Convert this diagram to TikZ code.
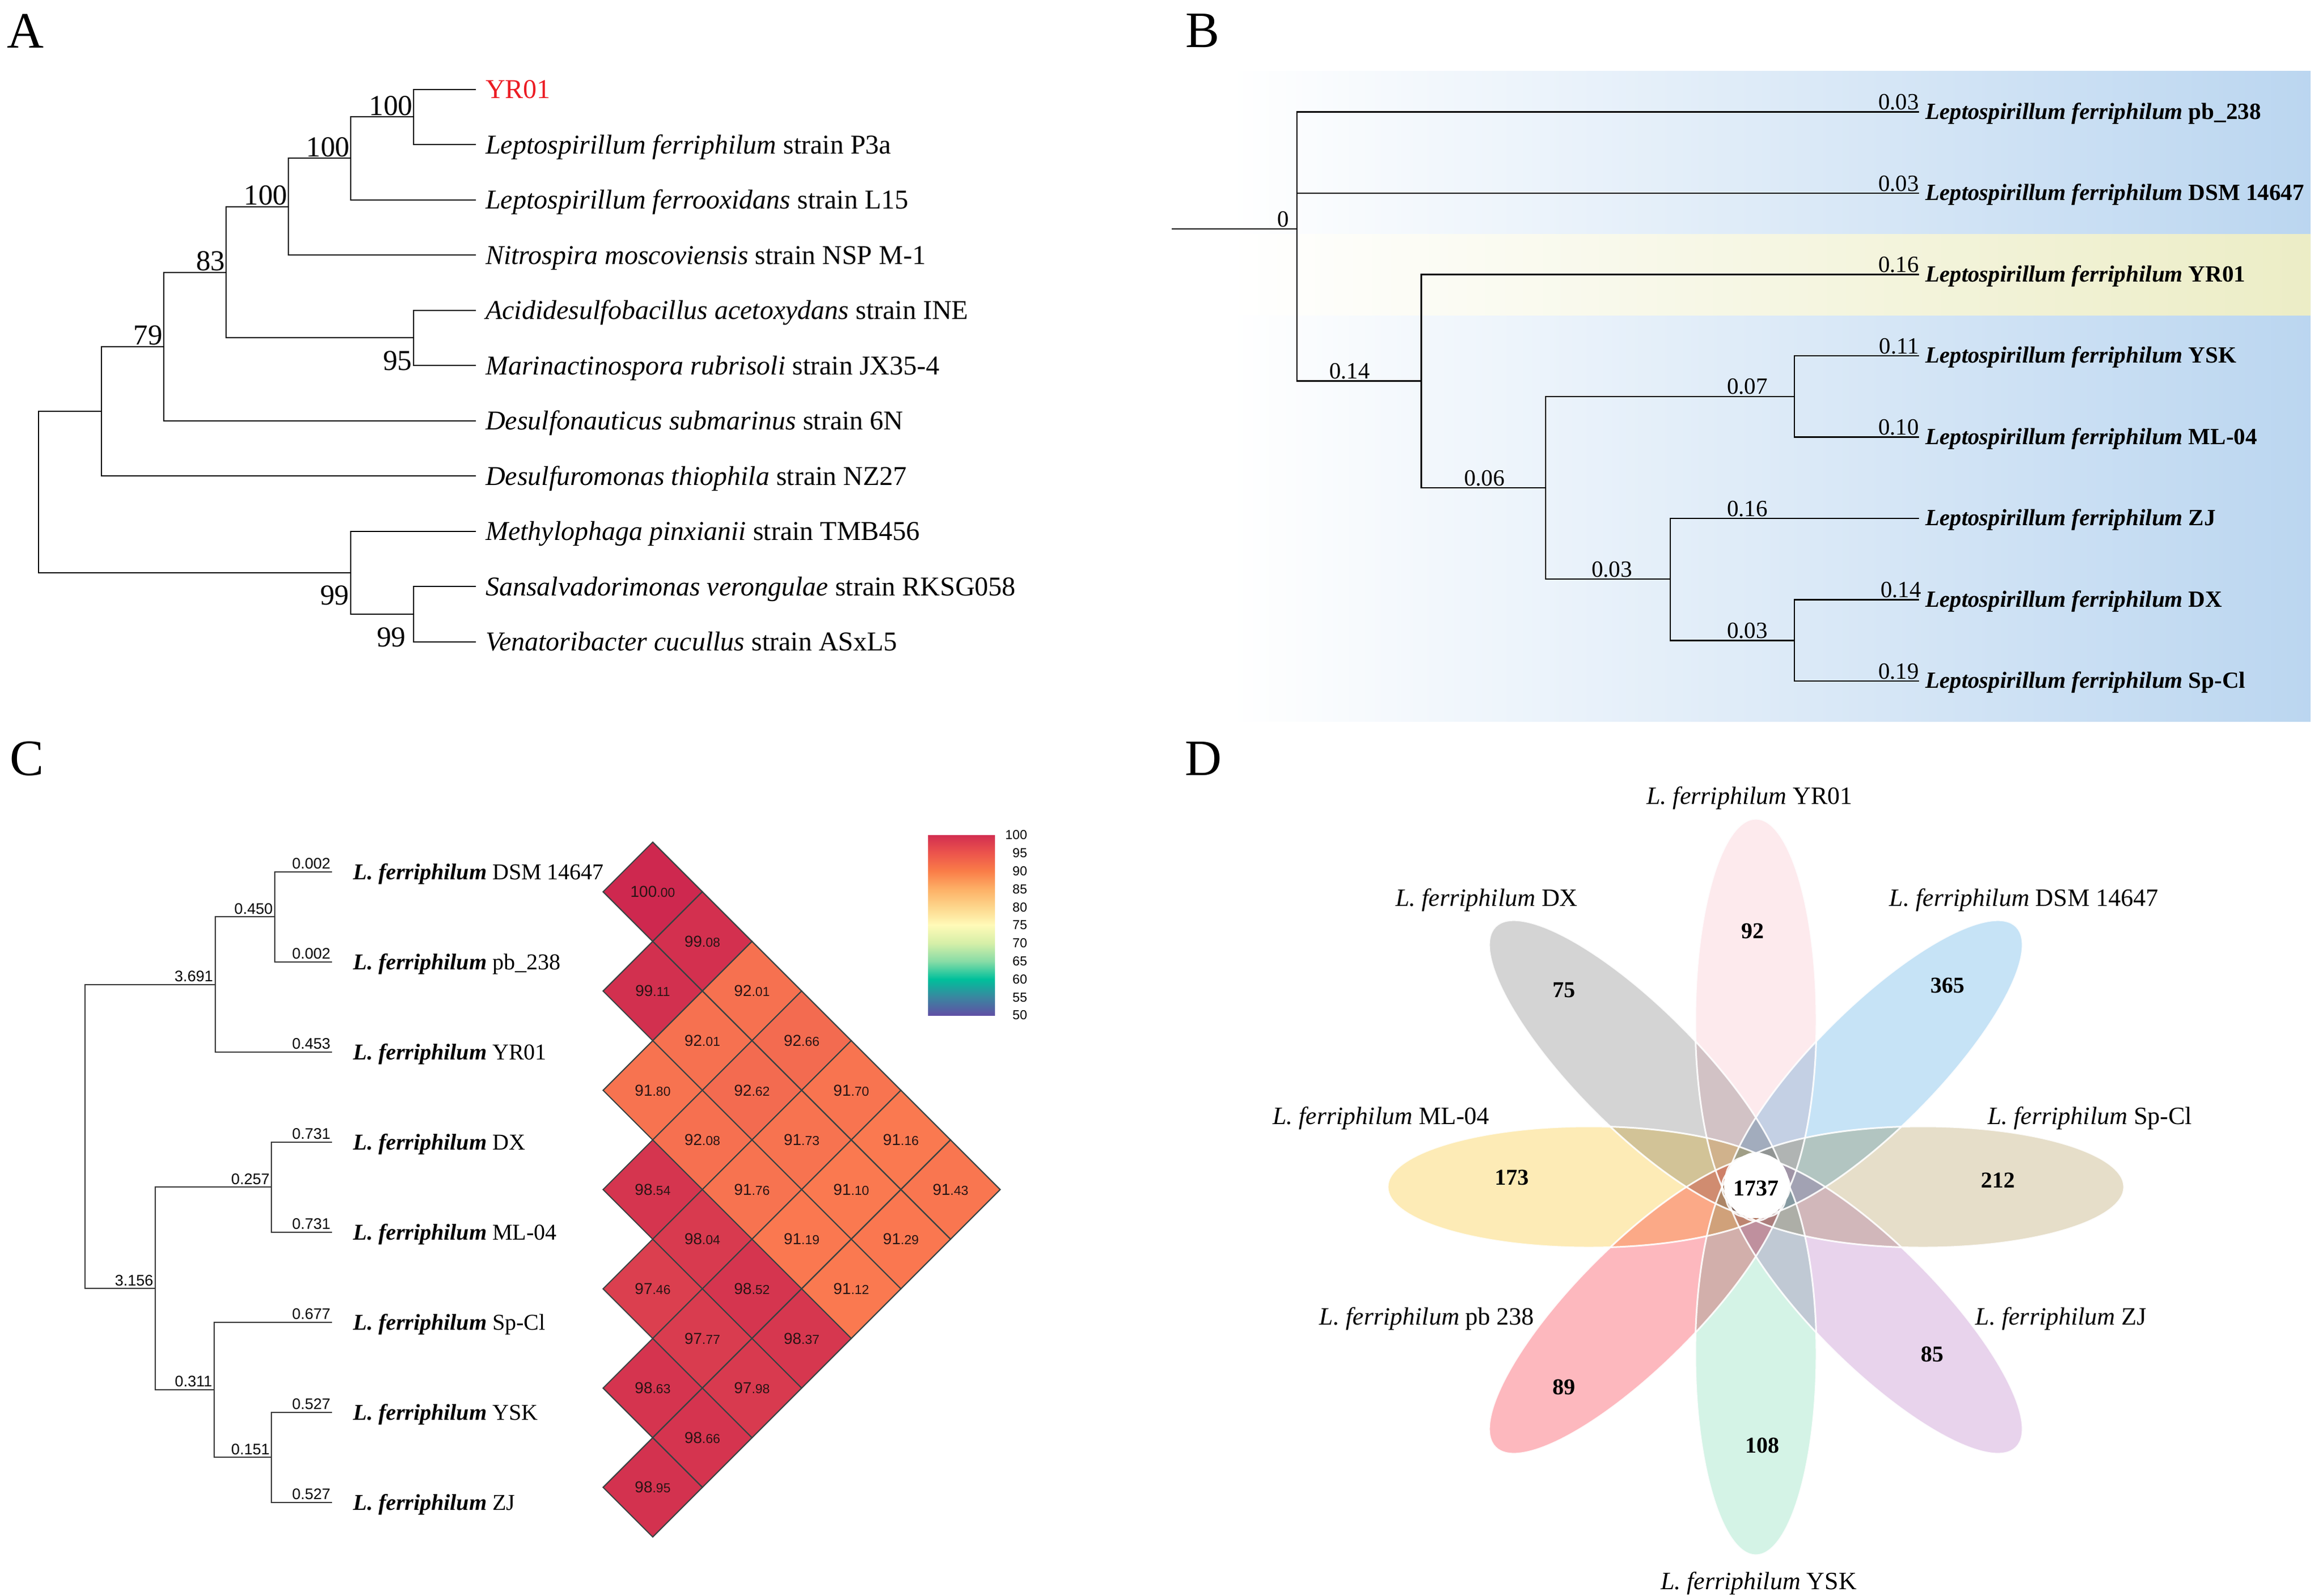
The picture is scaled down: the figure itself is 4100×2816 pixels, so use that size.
\documentclass[tikz,border=0pt]{standalone}
\usepackage{fontspec}
\setmainfont{Liberation Serif}
\newfontfamily\sansf{Liberation Sans}
\usetikzlibrary{calc}

\definecolor{bgblue}{RGB}{187,214,240}
\definecolor{bgyel}{RGB}{236,237,198}
\definecolor{treeCgray}{RGB}{55,55,55}
\definecolor{yrred}{RGB}{236,28,36}
\definecolor{hmhigh}{RGB}{206,40,79}
\definecolor{hmlow}{RGB}{251,122,80}
\definecolor{cellline}{RGB}{55,65,65}
\definecolor{hmtxt}{RGB}{40,20,20}
\definecolor{s100}{RGB}{210,46,80}
\definecolor{s95}{RGB}{236,84,76}
\definecolor{s90}{RGB}{250,125,72}
\definecolor{s85}{RGB}{253,176,102}
\definecolor{s80}{RGB}{253,214,140}
\definecolor{s75}{RGB}{255,250,184}
\definecolor{s70}{RGB}{214,239,168}
\definecolor{s65}{RGB}{136,220,166}
\definecolor{s60}{RGB}{0,192,155}
\definecolor{s55}{RGB}{58,134,160}
\definecolor{s50}{RGB}{96,80,165}
\definecolor{pYR}{RGB}{253,234,237}
\definecolor{pDSM}{RGB}{198,227,246}
\definecolor{pSP}{RGB}{230,222,201}
\definecolor{pZJ}{RGB}{232,211,236}
\definecolor{pYSK}{RGB}{212,243,230}
\definecolor{pPB}{RGB}{253,184,190}
\definecolor{pML}{RGB}{253,235,182}
\definecolor{pDX}{RGB}{212,212,212}

\pgfdeclareverticalshading{spectralbar}{100bp}{color(0bp)=(s50); color(25bp)=(s50); color(30bp)=(s55); color(35bp)=(s60); color(40bp)=(s65); color(45bp)=(s70); color(50bp)=(s75); color(55bp)=(s80); color(60bp)=(s85); color(65bp)=(s90); color(70bp)=(s95); color(75bp)=(s100); color(100bp)=(s100)}

\tikzset{
  panellbl/.style={anchor=base west, inner sep=0, font=\fontsize{90}{100}\selectfont},
  treeA/.style={line width=2pt, black},
  leafA/.style={anchor=base west, inner sep=0, font=\fontsize{48}{56}\selectfont},
  bootA/.style={inner sep=0, font=\fontsize{51}{60}\selectfont},
  treeB/.style={line width=2.6pt, black},
  leafB/.style={anchor=base west, inner sep=0, font=\fontsize{41}{48}\selectfont\bfseries},
  brB/.style={inner sep=0, font=\fontsize{41}{48}\selectfont},
  treeC/.style={line width=2pt, treeCgray},
  leafC/.style={anchor=base west, inner sep=0, font=\fontsize{40}{48}\selectfont},
  brC/.style={anchor=base east, inner sep=0, font=\sansf\fontsize{27}{32}\selectfont},
  hmtext/.style={inner sep=0, text=hmtxt, font=\sansf},
  cbtext/.style={anchor=east, inner sep=0, font=\sansf\fontsize{23}{26}\selectfont},
  venlbl/.style={inner sep=0, font=\fontsize{44}{52}\selectfont},
  vennum/.style={inner sep=0, font=\fontsize{40}{48}\selectfont\bfseries},
}

\begin{document}
\begin{tikzpicture}[x=1pt,y=-1pt]
\useasboundingbox (0,0) rectangle (4100,2816);
\fill[white] (0,0) rectangle (4100,2816);

% ================= Panel A =================
\node[panellbl] (lblA) at (12,84) {A};
\foreach \n/\yy in {1/157.5,2/255,3/352.5,4/450,5/547.5,6/645,7/742.5,8/840,9/937.5,10/1035,11/1132.5}{
  \coordinate (la\n) at (840,\yy);
}
\coordinate (a1) at (730.3,206.25);
\coordinate (a2) at (619.4,279.4);
\coordinate (a3) at (509.3,364.7);
\coordinate (a8) at (730.3,596.25);
\coordinate (a4) at (399.2,480.5);
\coordinate (a5) at (289,611.5);
\coordinate (a6) at (178.9,725.7);
\coordinate (a10) at (730.3,1083.75);
\coordinate (a9) at (619.4,1010.6);
\coordinate (a0) at (68,868);
\draw[treeA] (a1) |- (la1) (a1) |- (la2)
  (a2) |- (a1) (a2) |- (la3)
  (a3) |- (a2) (a3) |- (la4)
  (a8) |- (la5) (a8) |- (la6)
  (a4) |- (a3) (a4) |- (a8)
  (a5) |- (a4) (a5) |- (la7)
  (a6) |- (a5) (a6) |- (la8)
  (a10) |- (la10) (a10) |- (la11)
  (a9) |- (la9) (a9) |- (a10)
  (a0) |- (a6) (a0) |- (a9);
\node[leafA, text=yrred] (ta1) at ($(la1)+(17,16)$) {YR01};
\node[leafA] (ta2) at ($(la2)+(17,16)$) {\textit{Leptospirillum ferriphilum} strain P3a};
\node[leafA] (ta3) at ($(la3)+(17,16)$) {\textit{Leptospirillum ferrooxidans} strain L15};
\node[leafA] (ta4) at ($(la4)+(17,16)$) {\textit{Nitrospira moscoviensis} strain NSP M-1};
\node[leafA] (ta5) at ($(la5)+(17,16)$) {\textit{Acididesulfobacillus acetoxydans} strain INE};
\node[leafA] (ta6) at ($(la6)+(17,16)$) {\textit{Marinactinospora rubrisoli} strain JX35-4};
\node[leafA] (ta7) at ($(la7)+(17,16)$) {\textit{Desulfonauticus submarinus} strain 6N};
\node[leafA] (ta8) at ($(la8)+(17,16)$) {\textit{Desulfuromonas thiophila} strain NZ27};
\node[leafA] (ta9) at ($(la9)+(17,16)$) {\textit{Methylophaga pinxianii} strain TMB456};
\node[leafA] (ta10) at ($(la10)+(17,16)$) {\textit{Sansalvadorimonas verongulae} strain RKSG058};
\node[leafA] (ta11) at ($(la11)+(17,16)$) {\textit{Venatoribacter cucullus} strain ASxL5};
\node[bootA, anchor=base east] (bs1) at ($(a1)+(-2,-3)$) {100};
\node[bootA, anchor=base east] (bs2) at ($(a2)+(-2,-3)$) {100};
\node[bootA, anchor=base east] (bs3) at ($(a3)+(-2,-3)$) {100};
\node[bootA, anchor=base east] (bs4) at ($(a4)+(-2,-3)$) {83};
\node[bootA, anchor=base east] (bs5) at ($(a5)+(-2,-3)$) {79};
\node[bootA, anchor=base east] (bs8) at ($(a8)+(-3,57)$) {95};
\node[bootA, anchor=base east] (bs9) at ($(a9)+(-3,57)$) {99};
\node[bootA, anchor=base east] (bs10) at ($(a10)+(-14,58)$) {99};

% ================= Panel B =================
\shade[left color=white, right color=bgblue] (2170,125) rectangle (4078,1273);
\shade[left color=white, right color=bgyel] (2170,413) rectangle (4078,556);
\node[panellbl] (lblB) at (2092,83) {B};
\foreach \n/\yy in {1/197.6,2/341.1,3/484.6,4/628.1,5/771.6,6/915.1,7/1058.6,8/1202.1}{
  \coordinate (lb\n) at (3387,\yy);
}
\coordinate (bstem) at (2068,404);
\coordinate (b0) at (2289,404);
\coordinate (b1) at (2508.5,672.4);
\coordinate (b2) at (2728,861);
\coordinate (b3) at (3167,699.85);
\coordinate (b4) at (2948,1022);
\coordinate (b5) at (3167,1130.35);
\draw[treeB] (bstem) -- (b0)
  (b0) |- (lb1) (b0) |- (lb2) (b0) |- (b1)
  (b1) |- (lb3) (b1) |- (b2)
  (b2) |- (b3) (b2) |- (b4)
  (b3) |- (lb4) (b3) |- (lb5)
  (b4) |- (lb6) (b4) |- (b5)
  (b5) |- (lb7) (b5) |- (lb8);
\node[leafB] (tb1) at ($(lb1)+(11,12.7)$) {\textit{Leptospirillum ferriphilum} pb\_238};
\node[leafB] (tb2) at ($(lb2)+(11,12.7)$) {\textit{Leptospirillum ferriphilum} DSM 14647};
\node[leafB] (tb3) at ($(lb3)+(11,12.7)$) {\textit{Leptospirillum ferriphilum} YR01};
\node[leafB] (tb4) at ($(lb4)+(11,12.7)$) {\textit{Leptospirillum ferriphilum} YSK};
\node[leafB] (tb5) at ($(lb5)+(11,12.7)$) {\textit{Leptospirillum ferriphilum} ML-04};
\node[leafB] (tb6) at ($(lb6)+(11,12.7)$) {\textit{Leptospirillum ferriphilum} ZJ};
\node[leafB] (tb7) at ($(lb7)+(11,12.7)$) {\textit{Leptospirillum ferriphilum} DX};
\node[leafB] (tb8) at ($(lb8)+(11,12.7)$) {\textit{Leptospirillum ferriphilum} Sp-Cl};
\node[brB, anchor=base east] (vb1) at ($(lb1)+(0,-4)$) {0.03};
\node[brB, anchor=base east] (vb2) at ($(lb2)+(0,-4)$) {0.03};
\node[brB, anchor=base east] (vb3) at ($(lb3)+(0,-4)$) {0.16};
\node[brB, anchor=base east] (vb4) at ($(lb4)+(0,-4)$) {0.11};
\node[brB, anchor=base east] (vb5) at ($(lb5)+(0,-4)$) {0.10};
\node[brB, anchor=base east] (vb7) at ($(lb7)+(4,-4)$) {0.14};
\node[brB, anchor=base east] (vb8) at ($(lb8)+(0,-4)$) {0.19};
\node[brB, anchor=base east] (vb0) at (2275,400) {0};
\node[brB, anchor=base] (vbi1) at (2382,668.4) {0.14};
\node[brB, anchor=base] (vbi2) at (2620,857) {0.06};
\node[brB, anchor=base] (vbi3) at (3084,695.85) {0.07};
\node[brB, anchor=base] (vbi6) at (3084,911.1) {0.16};
\node[brB, anchor=base] (vbi4) at (2845,1018) {0.03};
\node[brB, anchor=base] (vbi5) at (3084,1126.35) {0.03};

% ================= Panel C =================
\node[panellbl] (lblC) at (17,1368) {C};
\foreach \n/\yy in {1/1538.8,2/1697.8,3/1856.7,4/2015.7,5/2174.6,6/2333.6,7/2492.6,8/2651.6}{
  \coordinate (lc\n) at (586.4,\yy);
}
\coordinate (c1) at (485,1618.3);
\coordinate (c2) at (380,1737.5);
\coordinate (c3) at (479,2095.15);
\coordinate (c5) at (479,2572.1);
\coordinate (c4) at (377.5,2452.85);
\coordinate (c6) at (273.7,2274);
\coordinate (c0) at (150,2005.75);
\draw[treeC] (c1) |- (lc1) (c1) |- (lc2)
  (c2) |- (c1) (c2) |- (lc3)
  (c3) |- (lc4) (c3) |- (lc5)
  (c5) |- (lc7) (c5) |- (lc8)
  (c4) |- (lc6) (c4) |- (c5)
  (c6) |- (c3) (c6) |- (c4)
  (c0) |- (c2) (c0) |- (c6);
\node[leafC] (tc1) at ($(lc1)+(37,14)$) {\textbf{\textit{L. ferriphilum}} DSM 14647};
\node[leafC] (tc2) at ($(lc2)+(37,14)$) {\textbf{\textit{L. ferriphilum}} pb\_238};
\node[leafC] (tc3) at ($(lc3)+(37,14)$) {\textbf{\textit{L. ferriphilum}} YR01};
\node[leafC] (tc4) at ($(lc4)+(37,14)$) {\textbf{\textit{L. ferriphilum}} DX};
\node[leafC] (tc5) at ($(lc5)+(37,14)$) {\textbf{\textit{L. ferriphilum}} ML-04};
\node[leafC] (tc6) at ($(lc6)+(37,14)$) {\textbf{\textit{L. ferriphilum}} Sp-Cl};
\node[leafC] (tc7) at ($(lc7)+(37,14)$) {\textbf{\textit{L. ferriphilum}} YSK};
\node[leafC] (tc8) at ($(lc8)+(37,14)$) {\textbf{\textit{L. ferriphilum}} ZJ};
\node[brC] (vc1) at ($(lc1)+(-3,-5)$) {0.002};
\node[brC] (vc2) at ($(lc2)+(-3,-5)$) {0.002};
\node[brC] (vc3) at ($(lc3)+(-3,-5)$) {0.453};
\node[brC] (vc4) at ($(lc4)+(-3,-5)$) {0.731};
\node[brC] (vc5) at ($(lc5)+(-3,-5)$) {0.731};
\node[brC] (vc6) at ($(lc6)+(-3,-5)$) {0.677};
\node[brC] (vc7) at ($(lc7)+(-3,-5)$) {0.527};
\node[brC] (vc8) at ($(lc8)+(-3,-5)$) {0.527};
\node[brC] (vci1) at ($(c1)+(-3.5,-5)$) {0.450};
\node[brC] (vci2) at ($(c2)+(-4,-5)$) {3.691};
\node[brC] (vci3) at ($(c3)+(-3,-5)$) {0.257};
\node[brC] (vci6) at ($(c6)+(-3,-5)$) {3.156};
\node[brC] (vci4) at ($(c4)+(-3,-5)$) {0.311};
\node[brC] (vci5) at ($(c5)+(-3,-5)$) {0.151};

% heatmap
\foreach \hr/\hc/\hv/\hi/\hf in {0/0/100.00/100/00, 1/1/99.08/99/08, 2/0/99.11/99/11, 2/2/92.01/92/01, 3/1/92.01/92/01, 3/3/92.66/92/66, 4/0/91.80/91/80, 4/2/92.62/92/62, 4/4/91.70/91/70, 5/1/92.08/92/08, 5/3/91.73/91/73, 5/5/91.16/91/16, 6/0/98.54/98/54, 6/2/91.76/91/76, 6/4/91.10/91/10, 6/6/91.43/91/43, 7/1/98.04/98/04, 7/3/91.19/91/19, 7/5/91.29/91/29, 8/0/97.46/97/46, 8/2/98.52/98/52, 8/4/91.12/91/12, 9/1/97.77/97/77, 9/3/98.37/98/37, 10/0/98.63/98/63, 10/2/97.98/97/98, 11/1/98.66/98/66, 12/0/98.95/98/95}{
  \pgfmathsetmacro{\px}{1152+87.6*\hc}
  \pgfmathsetmacro{\py}{1574+87.6*\hr}
  \pgfmathsetmacro{\pc}{max(0,min(100,(\hv-91)/9*100))}
  \filldraw[fill=hmhigh!\pc!hmlow, draw=cellline, line width=2pt, line join=miter]
    (\px,\py-87.6) -- (\px+87.6,\py) -- (\px,\py+87.6) -- (\px-87.6,\py) -- cycle;
  \node[hmtext] (hm-\hr-\hc) at (\px,\py) {\fontsize{28}{30}\selectfont\hi\fontsize{23}{30}\selectfont.\hf};
}
% colour bar
\shade[shading=spectralbar] (1638,1474) rectangle (1756,1792);
\foreach \k [count=\n from 0] in {100,95,90,85,80,75,70,65,60,55,50}{
  \node[cbtext] (cb\k) at (1813,1474+31.8*\n) {\k};
}

% ================= Panel D =================
\node[panellbl] (lblD) at (2091,1368) {D};
\coordinate (fc) at (3099,2095);
\foreach \ang/\col in {-135/pPB,-90/pYSK,-45/pZJ,0/pSP,45/pDSM,135/pDX,180/pML,90/pYR}{
  \fill[\col, blend mode=multiply, shift={(fc)}, rotate=\ang] (295,0) ellipse [x radius=355pt, y radius=107pt];
}
\foreach \ang in {-135,-90,-45,0,45,135,180,90}{
  \draw[white, line width=3pt, opacity=0.9, shift={(fc)}, rotate=\ang] (295,0) ellipse [x radius=355pt, y radius=107pt];
}
\fill[white] (3100.5,2092.5) circle [radius=57.5pt];
\node[vennum] (n1737) at (3099,2097) {1737};
\node[vennum] (n92) at (3093.5,1643.5) {92};
\node[vennum] (n365) at (3437.5,1739) {365};
\node[vennum] (n212) at (3526,2083) {212};
\node[vennum] (n85) at (3410,2390.7) {85};
\node[vennum] (n108) at (3110,2551.6) {108};
\node[vennum] (n89) at (2760.6,2448) {89};
\node[vennum] (n173) at (2668,2078) {173};
\node[vennum] (n75) at (2760.6,1748) {75};
\node[venlbl, anchor=base] (vYR) at (3088,1419) {\textit{L. ferriphilum} YR01};
\node[venlbl, anchor=base] (vDX) at (2624,1599) {\textit{L. ferriphilum} DX};
\node[venlbl, anchor=base] (vDSM) at (3572,1599) {\textit{L. ferriphilum} DSM 14647};
\node[venlbl, anchor=base east] (vML) at (2629,1984) {\textit{L. ferriphilum} ML-04};
\node[venlbl, anchor=base west] (vSP) at (3508,1984) {\textit{L. ferriphilum} Sp-Cl};
\node[venlbl, anchor=base east] (vPB) at (2708,2338) {\textit{L. ferriphilum} pb 238};
\node[venlbl, anchor=base west] (vZJ) at (3486.5,2338) {\textit{L. ferriphilum} ZJ};
\node[venlbl, anchor=base] (vYSK) at (3104,2805) {\textit{L. ferriphilum} YSK};
\end{tikzpicture}
\end{document}
